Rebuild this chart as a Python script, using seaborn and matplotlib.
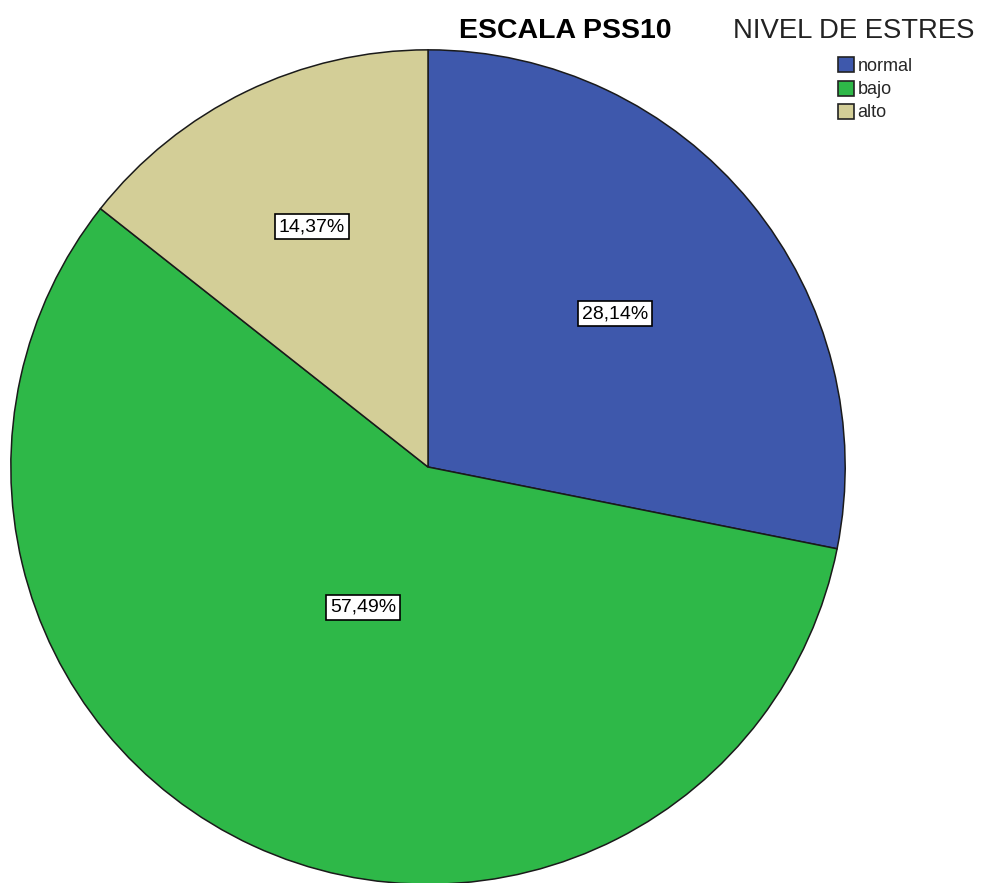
import numpy as np
import matplotlib
matplotlib.use("Agg")
import matplotlib.pyplot as plt
import seaborn as sns

categories = ["normal", "bajo", "alto"]
percents = [28.14, 57.49, 14.37]
pct_labels = ["28,14%", "57,49%", "14,37%"]
colors = ["#3E58AC", "#2EB848", "#D3CE97"]
# how far out each label sits (SPSS puts them unevenly)
label_r = [0.58, 0.37, 0.64]

sns.set_style("white")
plt.rcParams["font.family"] = ["Liberation Sans", "DejaVu Sans"]

fig = plt.figure(figsize=(9.81, 8.83), dpi=100)
ax = fig.add_axes([0.0102, -0.0023, 0.8522, 0.9468])

wedges, _ = ax.pie(percents, colors=colors, startangle=90, counterclock=False,
                   radius=1, wedgeprops=dict(edgecolor="#1a1a1a", linewidth=1.1))
ax.set_xlim(-1.002, 1.002)
ax.set_ylim(-1.002, 1.002)
ax.set_aspect("equal")
ax.axis("off")

for w, lab, r in zip(wedges, pct_labels, label_r):
    mid = np.deg2rad((w.theta1 + w.theta2) / 2)
    ax.text(r * np.cos(mid), r * np.sin(mid), lab, ha="center", va="center",
            fontsize=14, color="black",
            bbox=dict(boxstyle="square,pad=0.2", fc="white", ec="black", lw=1.2))

fig.text(0.576, 0.965, "ESCALA PSS10", ha="center", va="center",
         fontsize=20.5, fontweight="bold", color="black")
fig.text(0.8705, 0.965, "NIVEL DE ESTRES", ha="center", va="center",
         fontsize=19.8, color="#222222")

handles = [plt.Rectangle((0, 0), 1, 1, fc=c, ec="#222222", lw=1.2) for c in colors]
fig.legend(handles, categories, loc="upper left", bbox_to_anchor=(0.854, 0.935),
           frameon=False, fontsize=13, handlelength=0.9, handleheight=0.9,
           handletextpad=0.2, labelspacing=0.3, borderpad=0, borderaxespad=0)

fig.savefig("out.png", dpi=100)
